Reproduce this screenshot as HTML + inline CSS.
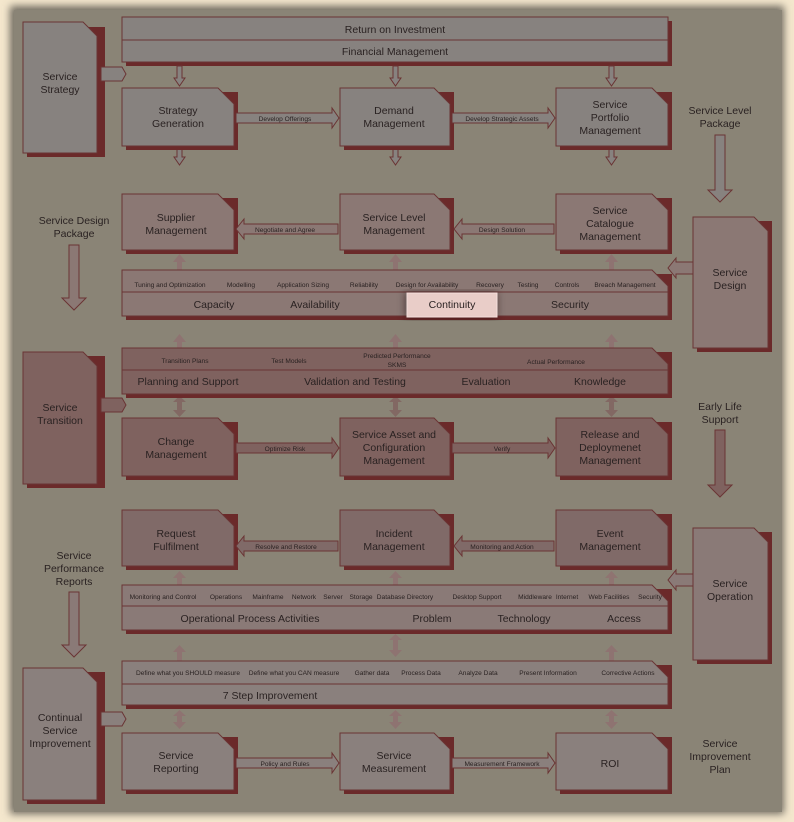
<!DOCTYPE html>
<html><head><meta charset="utf-8"><style>
html,body{margin:0;padding:0;background:#f3e6cc;}
svg{display:block;font-family:"Liberation Sans",sans-serif;}
</style></head><body>
<svg width="794" height="822" viewBox="0 0 794 822" xmlns="http://www.w3.org/2000/svg">
<defs>
<filter id="bl"><feGaussianBlur stdDeviation="4"/></filter>
</defs>
<rect width="794" height="822" fill="#f4e7cd"/>
<rect x="10" y="6" width="774" height="808" fill="#6f6a60" filter="url(#bl)"/>
<rect x="14" y="10" width="768" height="802" fill="#8a8476"/>

<g stroke="#6a3434" stroke-width="1" font-size="10.5" fill="#2a2222" text-anchor="middle">
<rect x="126" y="21" width="546" height="45" fill="#6b2a2a" stroke="none"/>
<rect x="122" y="17" width="546" height="45" fill="#87827f"/>
<line x1="122" y1="40" x2="668" y2="40"/>
<text x="395" y="33" stroke="none">Return on Investment</text>
<text x="395" y="55" stroke="none">Financial Management</text>

<path d="M27 27 H105 V157 H27Z" fill="#6b2a2a" stroke="none"/>
<path d="M23 22 H83 L97 36 V153 H23Z" fill="#87827f"/>
<text x="60" y="80" stroke="none">Service</text><text x="60" y="93" stroke="none">Strategy</text>

<path d="M27 356 H105 V488 H27Z" fill="#6b2a2a" stroke="none"/>
<path d="M23 352 H83 L97 366 V484 H23Z" fill="#7f625f"/>
<text x="60" y="411" stroke="none">Service</text><text x="60" y="424" stroke="none">Transition</text>

<path d="M27 672 H105 V804 H27Z" fill="#6b2a2a" stroke="none"/>
<path d="M23 668 H83 L97 682 V800 H23Z" fill="#8a807d"/>
<text x="60" y="721" stroke="none">Continual</text><text x="60" y="734" stroke="none">Service</text><text x="60" y="747" stroke="none">Improvement</text>

<path d="M697 221 H772 V352 H697Z" fill="#6b2a2a" stroke="none"/>
<path d="M693 217 H754 L768 231 V348 H693Z" fill="#8b7874"/>
<text x="730" y="276" stroke="none">Service</text><text x="730" y="289" stroke="none">Design</text>

<path d="M697 532 H772 V664 H697Z" fill="#6b2a2a" stroke="none"/>
<path d="M693 528 H754 L768 542 V660 H693Z" fill="#8a7a77"/>
<text x="730" y="587" stroke="none">Service</text><text x="730" y="600" stroke="none">Operation</text>

<path d="M101 67 H122 L126 74 L122 81 H101Z" fill="#87827f"/>
<path d="M101 398 H122 L126 405 L122 412 H101Z" fill="#7f625f"/>
<path d="M101 712 H122 L126 719 L122 726 H101Z" fill="#8a807d"/>
<path d="M693 262 H676 V258 L668 268 L676 278 V274 H693Z" fill="#8b7874"/>
<path d="M693 574 H676 V570 L668 580 L676 590 V586 H693Z" fill="#8a7a77"/>

<path d="M715 135 H725 V190 H732 L720 202 L708 190 H715Z" fill="#87827f"/>
<path d="M69 245 H79 V298 H86 L74 310 L62 298 H69Z" fill="#8b7874"/>
<path d="M715 430 H725 V485 H732 L720 497 L708 485 H715Z" fill="#7f625f"/>
<path d="M69 592 H79 V645 H86 L74 657 L62 645 H69Z" fill="#8a7a77"/>
</g>

<g fill="#2a2222" text-anchor="middle" font-size="10.5">
<text x="720" y="114">Service Level</text><text x="720" y="127">Package</text>
<text x="74" y="224">Service Design</text><text x="74" y="237">Package</text>
<text x="720" y="410">Early Life</text><text x="720" y="423">Support</text>
<text x="74" y="559">Service</text><text x="74" y="572">Performance</text><text x="74" y="585">Reports</text>
<text x="720" y="747">Service</text><text x="720" y="760">Improvement</text><text x="720" y="773">Plan</text>
</g>

<g fill="#87827f" stroke="#6a3434" stroke-width="1">
<path d="M177 66 H182 V78 H185 L179.5 86 L174 78 H177Z"/>
<path d="M393 66 H398 V78 H401 L395.5 86 L390 78 H393Z"/>
<path d="M609 66 H614 V78 H617 L611.5 86 L606 78 H609Z"/>
<path d="M177 149 H182 V157 H185 L179.5 165 L174 157 H177Z"/>
<path d="M393 149 H398 V157 H401 L395.5 165 L390 157 H393Z"/>
<path d="M609 149 H614 V157 H617 L611.5 165 L606 157 H609Z"/>
</g>
<g fill="#907070" opacity="0.8">
<path d="M177 270 V262 H173 L179.5 254 L186 262 H182 V270Z"/>
<path d="M393 270 V262 H389 L395.5 254 L402 262 H398 V270Z"/>
<path d="M609 270 V262 H605 L611.5 254 L618 262 H614 V270Z"/>
<path d="M177 348 V342 H173 L179.5 334 L186 342 H182 V348Z"/>
<path d="M393 348 V342 H389 L395.5 334 L402 342 H398 V348Z"/>
<path d="M609 348 V342 H605 L611.5 334 L618 342 H614 V348Z"/>
<path d="M177 398 V402 H173 L179.5 396 L186 402 H182 V410 H186 L179.5 417 L173 410 H177Z" fill="#7f625f"/>
<path d="M393 398 V402 H389 L395.5 396 L402 402 H398 V410 H402 L395.5 417 L389 410 H393Z" fill="#7f625f"/>
<path d="M609 398 V402 H605 L611.5 396 L618 402 H614 V410 H618 L611.5 417 L605 410 H609Z" fill="#7f625f"/>
<path d="M177 585 V578 H173 L179.5 571 L186 578 H182 V585Z"/>
<path d="M393 585 V578 H389 L395.5 571 L402 578 H398 V585Z"/>
<path d="M609 585 V578 H605 L611.5 571 L618 578 H614 V585Z"/>
<path d="M177 661 V652 H173 L179.5 645 L186 652 H182 V661Z"/>
<path d="M393 635 V640 H389 L395.5 634 L402 640 H398 V650 H402 L395.5 657 L389 650 H393Z"/>
<path d="M609 661 V652 H605 L611.5 645 L618 652 H614 V661Z"/>
<path d="M177 711 V716 H173 L179.5 710 L186 716 H182 V722 H186 L179.5 729 L173 722 H177Z"/>
<path d="M393 711 V716 H389 L395.5 710 L402 716 H398 V722 H402 L395.5 729 L389 722 H393Z"/>
<path d="M609 711 V716 H605 L611.5 710 L618 716 H614 V722 H618 L611.5 729 L605 722 H609Z"/>
</g>

<g stroke="#6a3434" stroke-width="1" font-size="10.5" fill="#2a2222" text-anchor="middle">
<g fill="#87827f">
<path d="M126 92 H238 V150 H126Z" fill="#6b2a2a" stroke="none"/><path d="M122 88 H218 L234 104 V146 H122Z"/>
<path d="M344 92 H454 V150 H344Z" fill="#6b2a2a" stroke="none"/><path d="M340 88 H434 L450 104 V146 H340Z"/>
<path d="M560 92 H672 V150 H560Z" fill="#6b2a2a" stroke="none"/><path d="M556 88 H652 L668 104 V146 H556Z"/>
<path d="M236 113 H332 V108 L339 118 L332 128 V123 H236Z"/>
<path d="M452 113 H548 V108 L555 118 L548 128 V123 H452Z"/>
</g>
<g fill="#8b7874">
<path d="M126 198 H238 V254 H126Z" fill="#6b2a2a" stroke="none"/><path d="M122 194 H218 L234 210 V250 H122Z"/>
<path d="M344 198 H454 V254 H344Z" fill="#6b2a2a" stroke="none"/><path d="M340 194 H434 L450 210 V250 H340Z"/>
<path d="M560 198 H672 V254 H560Z" fill="#6b2a2a" stroke="none"/><path d="M556 194 H652 L668 210 V250 H556Z"/>
<path d="M338 224 H244 V219 L236 229 L244 239 V234 H338Z"/>
<path d="M554 224 H462 V219 L454 229 L462 239 V234 H554Z"/>
<path d="M126 274 H672 V320 H126Z" fill="#6b2a2a" stroke="none"/>
<path d="M122 270 H652 L668 286 V316 H122Z"/>
<line x1="122" y1="292" x2="668" y2="292"/>
</g>
<g fill="#7f625f">
<path d="M126 352 H672 V398 H126Z" fill="#6b2a2a" stroke="none"/>
<path d="M122 348 H652 L668 364 V394 H122Z"/>
<line x1="122" y1="370" x2="668" y2="370"/>
<path d="M126 422 H238 V480 H126Z" fill="#6b2a2a" stroke="none"/><path d="M122 418 H218 L234 434 V476 H122Z"/>
<path d="M344 422 H454 V480 H344Z" fill="#6b2a2a" stroke="none"/><path d="M340 418 H434 L450 434 V476 H340Z"/>
<path d="M560 422 H672 V480 H560Z" fill="#6b2a2a" stroke="none"/><path d="M556 418 H652 L668 434 V476 H556Z"/>
<path d="M236 443 H332 V438 L339 448 L332 458 V453 H236Z"/>
<path d="M452 443 H548 V438 L555 448 L548 458 V453 H452Z"/>
</g>
<g fill="#806a68">
<path d="M126 514 H238 V570 H126Z" fill="#6b2a2a" stroke="none"/><path d="M122 510 H218 L234 526 V566 H122Z"/>
<path d="M344 514 H454 V570 H344Z" fill="#6b2a2a" stroke="none"/><path d="M340 510 H434 L450 526 V566 H340Z"/>
<path d="M560 514 H672 V570 H560Z" fill="#6b2a2a" stroke="none"/><path d="M556 510 H652 L668 526 V566 H556Z"/>
<path d="M338 541 H244 V536 L236 546 L244 556 V551 H338Z"/>
<path d="M554 541 H462 V536 L454 546 L462 556 V551 H554Z"/>
<path d="M126 589 H672 V634 H126Z" fill="#6b2a2a" stroke="none"/>
<path d="M122 585 H652 L668 601 V630 H122Z" fill="#8a7a77"/>
<line x1="122" y1="606" x2="668" y2="606"/>
</g>
<g fill="#8a807d">
<path d="M126 665 H672 V709 H126Z" fill="#6b2a2a" stroke="none"/>
<path d="M122 661 H652 L668 677 V705 H122Z"/>
<line x1="122" y1="684" x2="668" y2="684"/>
<path d="M126 737 H238 V794 H126Z" fill="#6b2a2a" stroke="none"/><path d="M122 733 H218 L234 749 V790 H122Z"/>
<path d="M344 737 H454 V794 H344Z" fill="#6b2a2a" stroke="none"/><path d="M340 733 H434 L450 749 V790 H340Z"/>
<path d="M560 737 H672 V794 H560Z" fill="#6b2a2a" stroke="none"/><path d="M556 733 H652 L668 749 V790 H556Z"/>
<path d="M236 758 H332 V753 L339 763 L332 773 V768 H236Z"/>
<path d="M452 758 H548 V753 L555 763 L548 773 V768 H452Z"/>
</g>
</g>

<rect x="405" y="292" width="92" height="26" fill="#1a1010" opacity="0.5" filter="url(#bl)"/>
<rect x="407" y="293" width="90" height="24" fill="#e9cdc8" stroke="#f5e0dc"/>

<g fill="#2a2222" text-anchor="middle" font-size="10.5">
<text x="178" y="114">Strategy</text><text x="178" y="127">Generation</text>
<text x="394" y="114">Demand</text><text x="394" y="127">Management</text>
<text x="610" y="108">Service</text><text x="610" y="121">Portfolio</text><text x="610" y="134">Management</text>
<text x="176" y="221">Supplier</text><text x="176" y="234">Management</text>
<text x="394" y="221">Service Level</text><text x="394" y="234">Management</text>
<text x="610" y="214">Service</text><text x="610" y="227">Catalogue</text><text x="610" y="240">Management</text>
<text x="214" y="308">Capacity</text><text x="315" y="308">Availability</text><text x="452" y="308">Continuity</text><text x="570" y="308">Security</text>
<text x="188" y="385">Planning and Support</text><text x="355" y="385">Validation and Testing</text><text x="486" y="385">Evaluation</text><text x="600" y="385">Knowledge</text>
<text x="176" y="445">Change</text><text x="176" y="458">Management</text>
<text x="394" y="438">Service Asset and</text><text x="394" y="451">Configuration</text><text x="394" y="464">Management</text>
<text x="610" y="438">Release and</text><text x="610" y="451">Deploymenet</text><text x="610" y="464">Management</text>
<text x="176" y="537">Request</text><text x="176" y="550">Fulfilment</text>
<text x="394" y="537">Incident</text><text x="394" y="550">Management</text>
<text x="610" y="537">Event</text><text x="610" y="550">Management</text>
<text x="250" y="622">Operational Process Activities</text><text x="432" y="622">Problem</text><text x="524" y="622">Technology</text><text x="624" y="622">Access</text>
<text x="270" y="699">7 Step Improvement</text>
<text x="176" y="759">Service</text><text x="176" y="772">Reporting</text>
<text x="394" y="759">Service</text><text x="394" y="772">Measurement</text>
<text x="610" y="767">ROI</text>
</g>
<g fill="#2a2222" text-anchor="middle" font-size="6.6">
<text x="285" y="121">Develop Offerings</text>
<text x="502" y="121">Develop Strategic Assets</text>
<text x="285" y="232">Negotiate and Agree</text>
<text x="502" y="232">Design Solution</text>
<text x="285" y="451">Optimize Risk</text>
<text x="502" y="451">Verify</text>
<text x="286" y="549">Resolve and Restore</text>
<text x="502" y="549">Monitoring and Action</text>
<text x="285" y="766">Policy and Rules</text>
<text x="502" y="766">Measurement Framework</text>
<text x="170" y="287">Tuning and Optimization</text><text x="241" y="287">Modelling</text><text x="303" y="287">Application Sizing</text><text x="364" y="287">Reliability</text><text x="427" y="287">Design for Availability</text><text x="490" y="287">Recovery</text><text x="528" y="287">Testing</text><text x="567" y="287">Controls</text><text x="625" y="287">Breach Management</text>
<text x="185" y="363">Transition Plans</text><text x="289" y="363">Test Models</text><text x="397" y="358">Predicted Performance</text><text x="397" y="367">SKMS</text><text x="556" y="364">Actual Performance</text>
<text x="163" y="599">Monitoring and Control</text><text x="226" y="599">Operations</text><text x="268" y="599">Mainframe</text><text x="304" y="599">Network</text><text x="333" y="599">Server</text><text x="361" y="599">Storage</text><text x="405" y="599">Database Directory</text><text x="477" y="599">Desktop Support</text><text x="535" y="599">Middleware</text><text x="567" y="599">Internet</text><text x="609" y="599">Web Facilities</text><text x="650" y="599">Security</text>
<text x="188" y="675">Define what you SHOULD measure</text><text x="294" y="675">Define what you CAN measure</text><text x="372" y="675">Gather data</text><text x="421" y="675">Process Data</text><text x="478" y="675">Analyze Data</text><text x="548" y="675">Present Information</text><text x="628" y="675">Corrective Actions</text>
</g>
</svg>
</body></html>
